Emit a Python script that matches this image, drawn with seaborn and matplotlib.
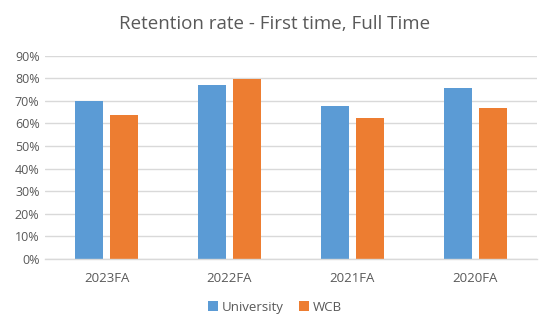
import matplotlib
matplotlib.use("Agg")
import matplotlib.pyplot as plt
import seaborn as sns
import pandas as pd
from matplotlib.ticker import PercentFormatter, MultipleLocator

categories = ["2023FA", "2022FA", "2021FA", "2020FA"]
series_names = ["University", "WCB"]
university = [0.70, 0.77, 0.675, 0.755]
wcb = [0.635, 0.797, 0.626, 0.666]
title = "Retention rate - First time, Full Time"

df = pd.DataFrame({
    "Term": categories * 2,
    "Series": [series_names[0]] * 4 + [series_names[1]] * 4,
    "Rate": university + wcb,
})

sns.set_theme(style="white")
plt.rcParams['font.family'] = ['Open Sans', 'DejaVu Sans']

grey = "#595959"
fig = plt.figure(figsize=(5.5, 3.25), dpi=100)
ax = fig.add_axes([0.082, 0.203, 0.894, 0.626])

sns.barplot(data=df, x="Term", y="Rate", hue="Series", order=categories,
            hue_order=series_names, palette=["#5B9BD5", "#ED7D31"],
            width=0.569, gap=0.2, saturation=1, linewidth=0, ax=ax, legend=True)

ax.set_ylim(0, 0.9)
ax.yaxis.set_major_locator(MultipleLocator(0.1))
ax.yaxis.set_major_formatter(PercentFormatter(1.0, decimals=0))
ax.grid(axis="y", color="#D9D9D9", linewidth=1)
ax.set_axisbelow(True)
for s in ["top", "right", "left"]:
    ax.spines[s].set_visible(False)
ax.spines["bottom"].set_color("#D9D9D9")
ax.spines["bottom"].set_linewidth(1)
ax.set_xlabel("")
ax.set_ylabel("")
ax.tick_params(axis="both", length=0, labelsize=9, colors=grey, pad=4)
ax.tick_params(axis="x", labelsize=9.5, pad=9)

fig.suptitle(title, y=0.955, fontsize=13.5, color=grey)

handles, labels = ax.get_legend_handles_labels()
ax.legend_.remove()
fig.legend(handles, labels, loc="center", bbox_to_anchor=(0.5, 0.055), ncol=2,
           frameon=False, fontsize=9.5, labelcolor=grey, handlelength=0.7,
           handleheight=0.7, handletextpad=0.3, columnspacing=1.2)

fig.savefig("out.png", dpi=100)
